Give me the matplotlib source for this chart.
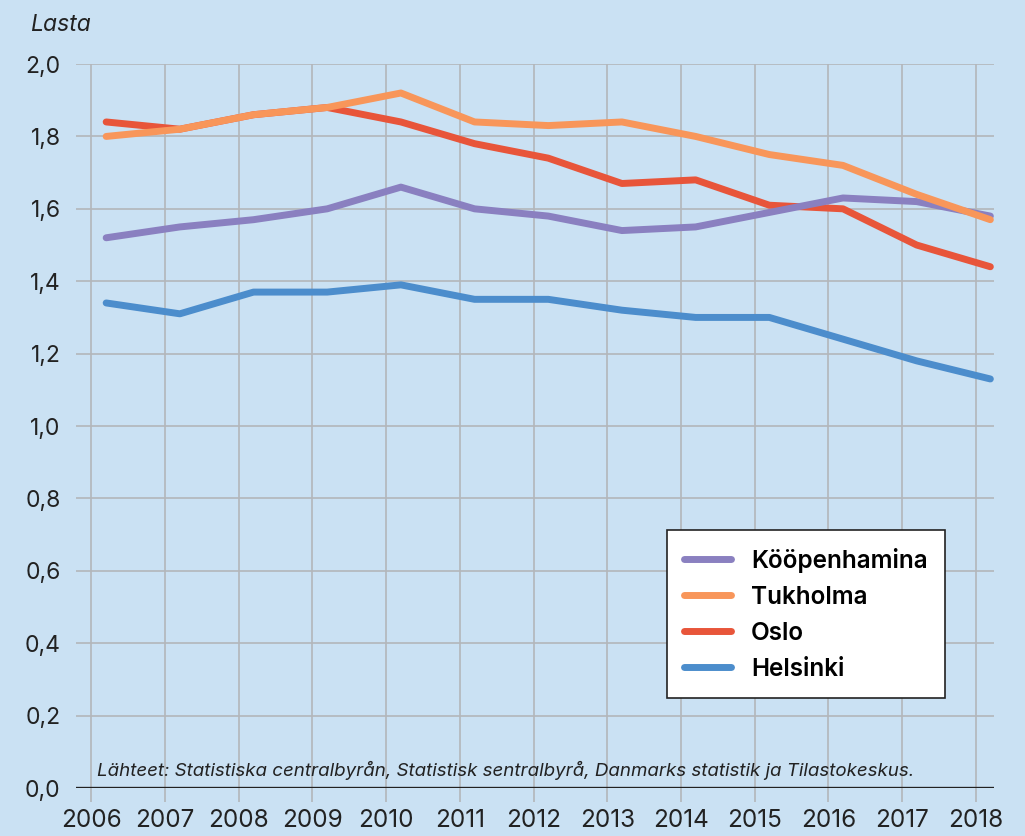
import matplotlib
matplotlib.use("Agg")
import matplotlib.pyplot as plt
from matplotlib.ticker import FuncFormatter

years = [2006, 2007, 2008, 2009, 2010, 2011, 2012, 2013, 2014, 2015, 2016, 2017, 2018]
kooepenhamina = [1.52, 1.55, 1.57, 1.60, 1.66, 1.60, 1.58, 1.54, 1.55, 1.59, 1.63, 1.62, 1.58]
tukholma = [1.80, 1.82, 1.86, 1.88, 1.92, 1.84, 1.83, 1.84, 1.80, 1.75, 1.72, 1.64, 1.57]
oslo = [1.84, 1.82, 1.86, 1.88, 1.84, 1.78, 1.74, 1.67, 1.68, 1.61, 1.60, 1.50, 1.44]
helsinki = [1.34, 1.31, 1.37, 1.37, 1.39, 1.35, 1.35, 1.32, 1.30, 1.30, 1.24, 1.18, 1.13]
series_names = ["Kööpenhamina", "Tukholma", "Oslo", "Helsinki"]
colors = ["#8a80c0", "#f8965a", "#e8553a", "#4c8dcc"]
zorders = [4, 5, 3, 3]
yticks = [0.0, 0.2, 0.4, 0.6, 0.8, 1.0, 1.2, 1.4, 1.6, 1.8, 2.0]

plt.rcParams['font.family'] = ['Inter', 'DejaVu Sans']
bg = "#cae1f3"
fig = plt.figure(figsize=(10.25, 8.36), dpi=100, facecolor=bg)
ax = fig.add_axes([0.0741, 0.0574, 0.8957, 0.866])
ax.set_facecolor(bg)

# data are plotted slightly after the year tick (mid-year offset)
xs = [y + 0.2 for y in years]
for name, vals, c, z in zip(series_names, [kooepenhamina, tukholma, oslo, helsinki], colors, zorders):
    ax.plot(xs, vals, color=c, lw=5, solid_capstyle='round', solid_joinstyle='round', label=name, zorder=z)

ax.set_xlim(2006 - 0.21, 2018 + 0.25)
ax.set_ylim(0, 2.0)
ax.set_xticks(years)
ax.set_yticks(yticks)
ax.yaxis.set_major_formatter(FuncFormatter(lambda v, p: f"{v:.1f}".replace('.', ',')))
ax.grid(True, color="#b3b6ba", lw=1.2, zorder=0)
for s in ax.spines.values():
    s.set_visible(False)
ax.axhline(0, color="#222222", lw=2.4, zorder=6)
ax.tick_params(axis='x', length=10, width=1.2, color="#b3b6ba", labelsize=17.5, pad=5, labelcolor="#222222")
ax.tick_params(axis='y', length=0, labelsize=16.5, pad=11, labelcolor="#222222")

fig.text(30/1025, 1 - 25/836, "Lasta", style='italic', fontsize=16.5, color="#222222", va='center', ha='left')
ax.text(97/1025, 1 - 770/836, "Lähteet: Statistiska centralbyrån, Statistisk sentralbyrå, Danmarks statistik ja Tilastokeskus.",
        transform=fig.transFigure, style='italic', fontsize=13.5, color="#222222", va='center', ha='left', zorder=7)

leg = ax.legend(loc='lower right', bbox_to_anchor=(945/1025, 1 - 698/836), bbox_transform=fig.transFigure,
                frameon=True, fancybox=False, handlelength=1.95, handletextpad=0.8,
                labelspacing=0.53, borderpad=0.72, borderaxespad=0,
                prop={'size': 17.5, 'weight': 'semibold'})
leg.get_frame().set_edgecolor("#222222")
leg.get_frame().set_linewidth(1.2)
leg.get_frame().set_facecolor("white")
leg.get_frame().set_alpha(1)
leg.set_zorder(8)
for line in leg.get_lines():
    line.set_linewidth(5)

fig.savefig("out.png", dpi=100, facecolor=bg)
